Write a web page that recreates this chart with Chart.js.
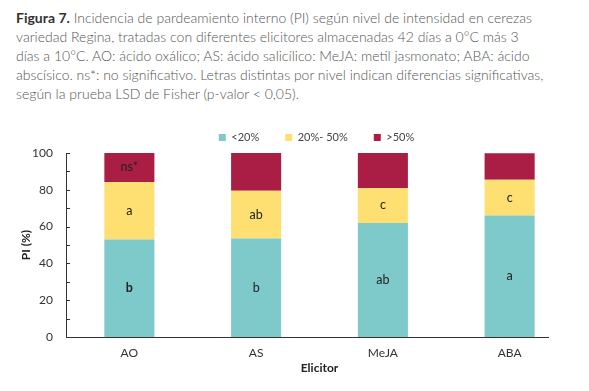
<!DOCTYPE html>
<html>
<head>
<meta charset="utf-8">
<script src="https://cdn.jsdelivr.net/npm/chart.js@4"></script>
<style>
  body { margin: 0; background: #fff; width: 589px; height: 391px; overflow: hidden; }
  #titulo {
    position: absolute; left: 16px; top: 8px; width: 573px; white-space: nowrap;
    font-family: Lato, 'Open Sans', sans-serif; font-size: 14px; line-height: 19px;
    color: #555; font-weight: 300;
  }
  #titulo b { color: #333; font-weight: bold; }
  #caja { position: absolute; left: 0; top: 106px; width: 589px; height: 285px; }
</style>
</head>
<body>
<div id="titulo"><b>Figura 7.</b> Incidencia de pardeamiento interno (PI) según nivel de intensidad en cerezas<br>variedad Regina, tratadas con diferentes elicitores almacenadas 42 días a 0°C más 3<br>días a 10°C. AO: ácido oxálico; AS: ácido salicílico: MeJA: metil jasmonato; ABA: ácido<br>abscísico. ns*: no significativo. Letras distintas por nivel indican diferencias significativas,<br>según la prueba LSD de Fisher (p-valor &lt; 0,05).</div>
<div id="caja"><canvas id="grafico"></canvas></div>
<script>
// Datos (% de frutos por nivel de pardeamiento)
const elicitores = ['AO', 'AS', 'MeJA', 'ABA'];
const nivelBajo = [53, 53.5, 62, 66];
const nivelMedio = [31.3, 26, 19, 19.5];
const nivelAlto = [15.7, 20.5, 19, 14.3];

// Letras de significancia por nivel
const letrasBajo = ['b', 'b', 'ab', 'a'];
const letrasMedio = ['a', 'ab', 'c', 'c'];
const letrasAlto = ['ns*', '', '', ''];

const fuente = "Lato, 'Open Sans', sans-serif";

// Dibuja las letras en el centro de cada segmento
const pluginLetras = {
  id: 'letras',
  afterDatasetsDraw(chart) {
    const ctx = chart.ctx;
    const letras = [letrasBajo, letrasMedio, letrasAlto];
    ctx.save();
    ctx.fillStyle = '#222';
    ctx.textAlign = 'center';
    ctx.textBaseline = 'middle';
    chart.data.datasets.forEach((ds, i) => {
      chart.getDatasetMeta(i).data.forEach((barra, j) => {
        const txt = letras[i][j];
        if (!txt) return;
        ctx.font = (i === 0 && j === 0 ? 'bold ' : '') + '12.5px ' + fuente;
        ctx.fillText(txt, barra.x, (barra.y + barra.base) / 2);
      });
    });
    ctx.restore();
  }
};

// Ejes: marcas hacia adentro en Y y línea base en X
const pluginEjes = {
  id: 'ejes',
  afterLayout(chart) {
    // centrar la leyenda un poco más a la derecha, como en el original
    chart.legend.left += 27;
    chart.legend.right += 27;
  },
  afterDraw(chart) {
    const ctx = chart.ctx;
    const y = chart.scales.y;
    const area = chart.chartArea;
    ctx.save();
    ctx.strokeStyle = '#333';
    ctx.lineWidth = 1;
    ctx.beginPath();
    y.ticks.forEach(t => {
      const py = Math.round(y.getPixelForValue(t.value)) + 0.5;
      ctx.moveTo(area.left, py);
      ctx.lineTo(area.left + 4, py);
    });
    const base = Math.round(y.getPixelForValue(0)) + 0.5;
    ctx.moveTo(area.left, base);
    ctx.lineTo(549, base);
    ctx.stroke();
    ctx.restore();
  }
};

new Chart(document.getElementById('grafico'), {
  type: 'bar',
  data: {
    labels: elicitores,
    datasets: [
      { label: '<20%', data: nivelBajo, backgroundColor: '#7ecacb' },
      { label: '20%- 50%', data: nivelMedio, backgroundColor: '#fddf72' },
      { label: '>50%', data: nivelAlto, backgroundColor: '#aa1e46' }
    ]
  },
  options: {
    responsive: true,
    maintainAspectRatio: false,
    animation: false,
    layout: { padding: { left: 6, right: 16, top: 0, bottom: 0 } },
    datasets: { bar: { barPercentage: 0.395, categoryPercentage: 1 } },
    plugins: {
      legend: {
        position: 'top',
        labels: {
          boxWidth: 7, boxHeight: 7, padding: 26,
          color: '#444', font: { family: fuente, size: 11 }
        }
      },
      tooltip: { enabled: false }
    },
    scales: {
      x: {
        stacked: true,
        offset: true,
        afterFit: s => { s.height = 54; },
        grid: { display: false, drawTicks: false },
        border: { display: false },
        ticks: { color: '#333', padding: 9, font: { family: fuente, size: 12 } },
        title: { display: true, text: 'Elicitor', color: '#222', padding: { top: 0, bottom: 16 }, font: { family: fuente, size: 12, weight: 'bold' } }
      },
      y: {
        stacked: true,
        min: 0, max: 100,
        afterFit: s => { s.width = 60; },
        grid: { display: false, drawTicks: false },
        border: { display: true, color: '#333' },
        ticks: {
          stepSize: 10, padding: 13, color: '#333',
          font: { family: fuente, size: 12 },
          callback: v => (v % 20 === 0 ? v : '')
        },
        title: { display: true, text: 'PI (%)', color: '#222', padding: { top: 13, bottom: 0 }, font: { family: fuente, size: 12, weight: 'bold' } }
      }
    }
  },
  plugins: [pluginLetras, pluginEjes]
});
</script>
</body>
</html>
